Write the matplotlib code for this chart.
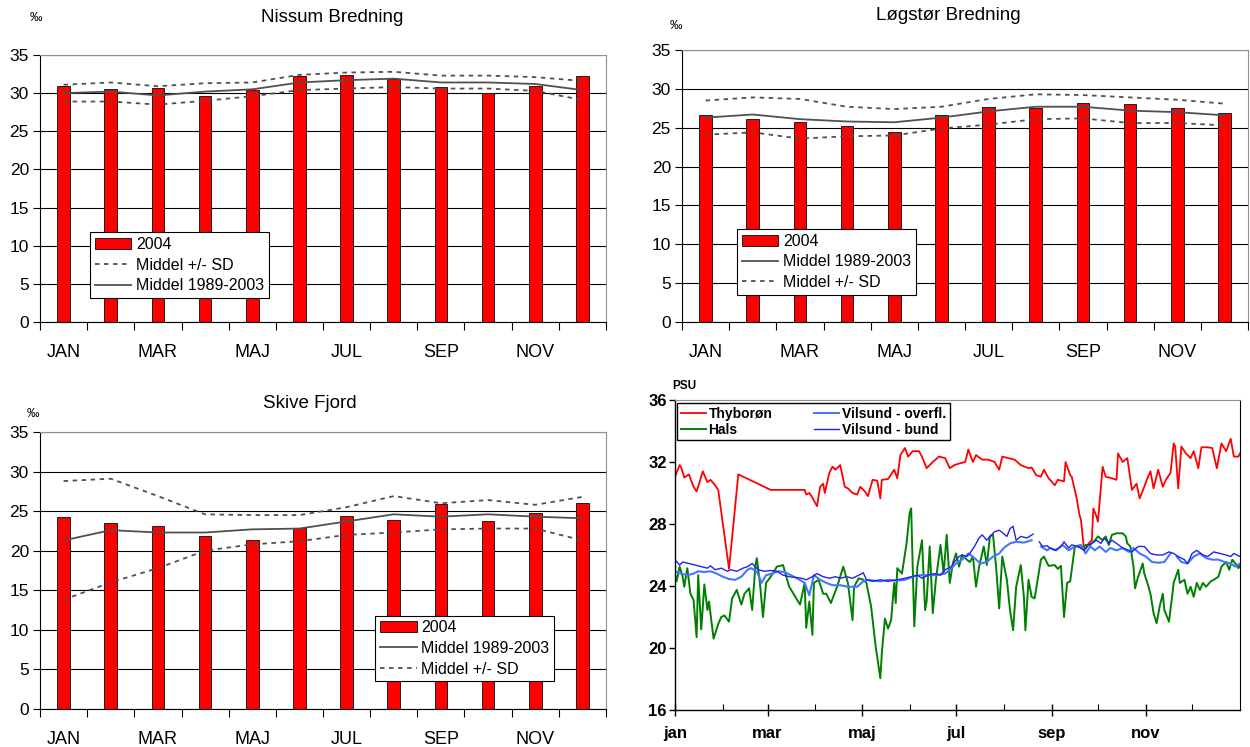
import numpy as np
import matplotlib.pyplot as plt
from matplotlib.ticker import FixedLocator

plt.rcParams['font.family'] = ['Liberation Sans', 'DejaVu Sans']

# monthly data for the three bar panels
months = ['JAN', 'FEB', 'MAR', 'APR', 'MAJ', 'JUN', 'JUL', 'AUG', 'SEP', 'OKT', 'NOV', 'DEC']

nissum_2004 = [31.0, 30.6, 30.7, 29.6, 30.4, 32.3, 32.4, 31.8, 30.8, 30.0, 30.9, 32.3]
nissum_mean = [30.0, 30.2, 29.7, 30.2, 30.5, 31.4, 31.7, 31.9, 31.4, 31.4, 31.2, 30.4]
nissum_hi = [31.1, 31.4, 30.9, 31.3, 31.4, 32.4, 32.7, 32.8, 32.3, 32.3, 32.1, 31.6]
nissum_lo = [28.9, 28.9, 28.5, 29.0, 29.6, 30.4, 30.6, 30.8, 30.6, 30.6, 30.3, 29.1]

logstor_2004 = [26.6, 26.1, 25.7, 25.2, 24.5, 26.7, 27.7, 27.5, 28.2, 28.1, 27.6, 26.9]
logstor_mean = [26.3, 26.7, 26.1, 25.8, 25.7, 26.3, 27.1, 27.7, 27.7, 27.2, 27.0, 26.6]
logstor_hi = [28.5, 28.9, 28.7, 27.7, 27.4, 27.7, 28.7, 29.3, 29.2, 28.9, 28.6, 28.1]
logstor_lo = [24.1, 24.4, 23.6, 23.9, 24.0, 24.9, 25.4, 26.1, 26.2, 25.6, 25.6, 25.3]

skive_2004 = [24.2, 23.5, 23.1, 21.9, 21.4, 22.9, 24.4, 23.9, 25.9, 23.8, 24.8, 26.0]
skive_mean = [21.3, 22.6, 22.3, 22.3, 22.7, 22.8, 23.7, 24.6, 24.3, 24.6, 24.3, 24.1]
skive_hi = [28.8, 29.1, 26.9, 24.6, 24.5, 24.5, 25.5, 26.9, 26.0, 26.4, 25.8, 26.8]
skive_lo = [13.8, 16.0, 17.8, 20.0, 20.8, 21.2, 22.0, 22.3, 22.7, 22.8, 22.8, 21.3]

# daily-ish series for 2004 (day of year, PSU)
thy_day = [0, 3, 4, 6, 9, 12, 14, 15, 18, 21, 23, 26, 28, 35, 41, 62, 84, 85, 87, 89, 92, 94, 96, 97,
           100, 102, 104, 107, 110, 112, 115, 118, 120, 123, 125, 128, 131, 133, 134, 138, 142, 144,
           146, 149, 151, 154, 158, 160, 163, 167, 171, 175, 178, 181, 184, 188, 190, 193, 195, 199,
           203, 207, 210, 212, 216, 220, 224, 229, 231, 234, 237, 239, 242, 246, 248, 252, 253, 256,
           257, 260, 262, 263, 265, 268, 270, 271, 273, 274, 277, 279, 283, 286, 287, 290, 293, 296,
           299, 301, 304, 306, 308, 310, 313, 316, 318, 321, 323, 324, 326, 328, 331, 334, 336, 339,
           341, 345, 348, 351, 354, 357, 360, 362, 365, 366]
thy_val = [31.05, 31.8, 31.65, 31.0, 31.2, 30.4, 30.1, 30.4, 31.4, 30.7, 30.85, 30.5, 30.2, 25.1, 31.2,
           30.2, 30.2, 29.9, 30.0, 29.7, 29.15, 30.4, 30.6, 30.0, 31.3, 31.7, 31.5, 31.8, 30.4, 30.3,
           30.0, 29.9, 30.4, 30.1, 29.8, 30.85, 30.8, 29.65, 30.85, 30.9, 31.5, 30.95, 32.45, 32.9,
           32.35, 32.7, 32.7, 32.35, 31.6, 32.0, 32.35, 32.25, 31.6, 31.8, 31.9, 32.0, 32.8, 32.0,
           32.45, 32.15, 32.15, 32.0, 31.5, 32.35, 32.25, 32.15, 31.8, 31.6, 31.65, 31.15, 31.05,
           31.5, 30.95, 30.5, 30.85, 30.75, 32.0, 31.15, 31.05, 29.75, 28.6, 28.25, 26.3, 26.75,
           26.95, 29.0, 28.5, 28.15, 31.7, 31.05, 30.95, 30.85, 32.55, 32.0, 32.25, 30.2, 30.6,
           29.65, 30.4, 30.95, 31.4, 30.3, 31.5, 30.4, 30.85, 31.3, 33.2, 33.0, 30.3, 33.0, 32.55,
           32.25, 32.7, 31.6, 32.95, 32.95, 32.9, 31.6, 33.2, 32.7, 33.5, 32.35, 32.35, 32.55]

hals_day = [0, 1, 3, 5, 6, 8, 10, 12, 14, 15, 17, 19, 21, 22, 25, 28, 30, 32, 35, 37, 40, 43, 45, 48,
            50, 52, 53, 55, 57, 59, 62, 66, 70, 74, 78, 81, 84, 85, 87, 89, 90, 93, 96, 98, 101, 105,
            109, 112, 115, 116, 119, 122, 124, 127, 130, 133, 134, 136, 138, 140, 142, 143, 144, 147,
            150, 152, 153, 155, 157, 160, 162, 163, 165, 167, 169, 172, 174, 176, 178, 180, 182, 184,
            186, 189, 191, 193, 195, 197, 200, 202, 204, 206, 208, 210, 212, 215, 217, 219, 221, 224,
            226, 227, 229, 231, 233, 237, 239, 242, 246, 248, 250, 252, 254, 256, 259, 261, 264, 266,
            269, 272, 274, 277, 279, 281, 283, 286, 290, 292, 293, 295, 297, 298, 300, 303, 304, 306,
            308, 310, 312, 314, 316, 317, 320, 322, 323, 326, 327, 330, 332, 334, 336, 338, 340, 342,
            344, 347, 349, 352, 354, 357, 359, 361, 363, 365, 366]
hals_val = [24.8, 24.3, 25.25, 24.6, 23.95, 25.15, 23.5, 23.1, 20.7, 24.7, 21.2, 24.1, 22.45, 23.0,
            20.6, 21.55, 22.0, 22.1, 21.7, 23.2, 23.75, 22.8, 23.5, 23.85, 22.45, 25.25, 25.8, 24.2,
            22.0, 24.2, 24.6, 25.25, 25.35, 23.95, 23.3, 22.8, 24.2, 21.3, 23.0, 20.85, 24.2, 24.4,
            23.5, 23.5, 22.9, 23.95, 25.25, 24.2, 21.8, 23.95, 24.5, 24.4, 24.2, 22.7, 20.1, 18.05,
            19.7, 21.9, 21.25, 21.8, 24.2, 22.9, 25.15, 24.8, 26.75, 28.7, 29.0, 21.4, 25.25, 26.95,
            22.45, 23.0, 26.55, 22.25, 24.4, 26.65, 24.8, 27.3, 24.2, 25.45, 26.1, 25.25, 26.0, 25.7,
            25.55, 25.9, 23.95, 25.25, 26.55, 25.35, 27.2, 27.3, 25.25, 22.55, 25.9, 24.4, 22.45,
            21.15, 23.95, 25.35, 23.3, 21.15, 24.4, 23.3, 23.2, 25.7, 25.9, 25.3, 25.35, 25.1, 25.3,
            22.0, 24.2, 24.3, 26.55, 26.55, 26.45, 26.65, 26.65, 26.95, 27.2, 26.95, 27.2, 26.65,
            27.3, 27.4, 27.4, 27.2, 26.75, 26.55, 25.25, 23.85, 24.6, 25.45, 24.8, 24.2, 23.5, 22.25,
            21.6, 22.7, 23.5, 22.45, 21.7, 23.3, 24.2, 25.05, 24.2, 24.4, 23.5, 23.95, 23.3, 24.2,
            23.75, 24.2, 23.95, 24.3, 24.4, 24.6, 25.25, 25.55, 25.05, 25.7, 25.45, 25.15, 25.35]

# NaN marks the gap in the Vilsund record
nan = np.nan
bund_day = [0, 3, 5, 9, 13, 17, 21, 23, 26, 30, 34, 36, 40, 44, 47, 50, 54, 58, 62, 66, 70, 74, 78,
            82, 85, 89, 92, 96, 100, 104, 107, 111, 115, 119, 122, 124, 128, 133, 138, 144, 149, 153,
            157, 160, 164, 168, 172, 175, 179, 181, 184, 186, 189, 191, 194, 197, 199, 202, 204, 207,
            210, 212, 215, 217, 219, 221, 224, 228, 232, 234, 236, 238, 241, 243, 246, 250, 252, 255,
            257, 261, 265, 268, 270, 273, 276, 278, 281, 283, 286, 290, 294, 296, 300, 304, 308, 312,
            316, 320, 323, 326, 330, 332, 335, 338, 342, 345, 349, 353, 357, 360, 362, 366]
bund_val = [25.7, 25.35, 25.55, 25.45, 25.35, 25.25, 25.15, 25.3, 25.05, 25.15, 24.95, 25.05, 24.95,
            25.15, 25.25, 25.45, 25.05, 24.95, 25.0, 24.95, 24.7, 24.6, 24.55, 24.5, 24.4, 24.6, 24.8,
            24.6, 24.5, 24.6, 24.5, 24.6, 24.5, 24.7, 24.85, 24.4, 24.3, 24.4, 24.3, 24.4, 24.5, 24.6,
            24.7, 24.5, 24.7, 24.8, 24.7, 25.05, 25.25, 25.55, 25.9, 26.0, 25.9, 26.1, 26.55, 27.1,
            27.3, 26.95, 27.2, 27.5, 27.6, 27.45, 27.2, 27.7, 27.85, 26.95, 27.2, 27.1, 27.35, nan,
            26.85, 26.55, 26.6, 26.45, 26.3, 26.55, 26.85, 26.45, 26.65, 26.55, 26.3, 26.65, 26.75,
            26.95, 26.75, 27.1, 26.75, 26.95, 26.75, 26.45, 26.3, 26.2, 26.55, 26.55, 26.1, 26.0,
            26.0, 26.2, 26.1, 25.9, 25.7, 25.45, 26.1, 26.3, 26.0, 25.9, 26.2, 26.1, 26.0, 25.9,
            26.1, 25.9]

overfl_day = [0, 4, 8, 12, 15, 19, 23, 27, 31, 35, 39, 43, 47, 49, 53, 56, 59, 63, 67, 71, 75, 79, 84,
              87, 90, 94, 98, 102, 107, 112, 118, 122, 125, 129, 133, 138, 144, 149, 154, 159, 164,
              169, 175, 178, 182, 186, 190, 194, 198, 202, 206, 210, 213, 217, 221, 226, 231, 234,
              237, 241, 243, 247, 251, 255, 259, 263, 266, 269, 272, 275, 279, 282, 286, 290, 294,
              297, 301, 305, 309, 313, 317, 321, 323, 325, 328, 332, 336, 340, 344, 348, 352, 356,
              360, 363, 366]
overfl_val = [24.95, 24.8, 24.7, 24.8, 24.95, 24.9, 24.95, 24.8, 24.6, 24.45, 24.4, 24.6, 25.05, 25.15,
              24.95, 24.2, 24.7, 24.8, 24.95, 24.9, 24.7, 24.5, 24.2, 23.4, 24.7, 24.4, 24.2, 24.05,
              24.05, 23.95, 23.95, 24.3, 24.4, 24.35, 24.3, 24.4, 24.35, 24.4, 24.6, 24.7, 24.7, 24.7,
              24.8, 25.05, 25.45, 25.7, 26.1, 25.8, 25.45, 25.55, 25.9, 26.1, 26.45, 26.75, 26.85,
              26.8, 26.95, nan, 26.55, 26.3, 26.45, 26.3, 26.65, 26.3, 26.55, 26.65, 26.1, 26.55, 26.3,
              26.55, 26.2, 26.45, 26.3, 26.45, 26.2, 26.45, 26.1, 25.9, 25.55, 25.5, 25.55, 26.1, nan,
              25.9, 25.55, 25.45, 25.9, 26.1, 25.8, 25.7, 25.7, 25.55, 25.45, 25.25, 25.45]

month_start = [0, 31, 60, 91, 121, 152, 182, 213, 244, 274, 305, 335, 366]
month_lab = ['jan', 'mar', 'maj', 'jul', 'sep', 'nov']

fig = plt.figure(figsize=(12.5, 7.47), dpi=100)


def bar_panel(rect, bars, mean, hi, lo, title, title_xy, unit_xy, leg_anchor, sd_first):
    ax = fig.add_axes(rect)
    x = np.arange(len(months))
    ax.set_axisbelow(True)
    ax.yaxis.grid(True, color='black', lw=0.8)
    b = ax.bar(x, bars, width=0.27, color='#ff0000', edgecolor='#202020', lw=0.7, label='2004', zorder=2)
    m, = ax.plot(x, mean, color='#505050', lw=1.3, label='Middel 1989-2003', zorder=3)
    s, = ax.plot(x, hi, color='#505050', lw=1.3, ls=(0, (2.5, 2.5)), label='Middel +/- SD', zorder=3)
    ax.plot(x, lo, color='#505050', lw=1.3, ls=(0, (2.5, 2.5)), zorder=3)
    ax.set_xlim(-0.5, 11.5)
    ax.set_ylim(0, 35)
    ax.set_yticks(range(0, 36, 5))
    ax.set_xticks(x[::2])
    ax.set_xticklabels(months[::2])
    ax.xaxis.set_minor_locator(FixedLocator(np.arange(-0.5, 12, 1)))
    ax.tick_params(axis='x', which='major', length=0, pad=16, labelsize=13)
    ax.tick_params(axis='x', which='minor', length=6, direction='out', width=0.8)
    ax.tick_params(axis='y', length=5, direction='out', width=0.8, labelsize=12.5, pad=3)
    for sp in ['top', 'right']:
        ax.spines[sp].set_color('#909090')
    ax.spines['left'].set_linewidth(0.8)
    ax.spines['bottom'].set_linewidth(0.8)
    handles = [b, s, m] if sd_first else [b, m, s]
    leg = ax.legend(handles=handles, loc='lower left', bbox_to_anchor=leg_anchor, borderaxespad=0,
                    fontsize=11.5, frameon=True, fancybox=False, framealpha=1, edgecolor='black',
                    handlelength=2.3, handletextpad=0.3, labelspacing=0.35, borderpad=0.3)
    leg.get_frame().set_linewidth(0.8)
    fig.text(title_xy[0], title_xy[1], title, ha='center', va='center', fontsize=13.5)
    fig.text(unit_xy[0], unit_xy[1], '‰', ha='left', va='center', fontsize=9)
    return ax


W, H = 1250, 747
bar_panel([40 / W, 1 - 322 / H, 566 / W, 267 / H], nissum_2004, nissum_mean, nissum_hi, nissum_lo,
          'Nissum Bredning', (332 / W, 1 - 18 / H), (30 / W, 1 - 18 / H), (0.088, 0.09), True)
bar_panel([682 / W, 1 - 322 / H, 566 / W, 272 / H], logstor_2004, logstor_mean, logstor_hi, logstor_lo,
          'Løgstør Bredning', (948 / W, 1 - 16 / H), (670 / W, 1 - 26 / H), (0.097, 0.10), False)
bar_panel([40 / W, 1 - 709 / H, 566 / W, 277 / H], skive_2004, skive_mean, skive_hi, skive_lo,
          'Skive Fjord', (310 / W, 1 - 403 / H), (27 / W, 1 - 414 / H), (0.592, 0.10), False)

# fourth panel: daily salinity
ax4 = fig.add_axes([675 / W, 1 - 710 / H, 565 / W, 310 / H])
ax4.plot(thy_day, thy_val, color='#ff0000', lw=1.3, label='Thyborøn')
ax4.plot(hals_day, hals_val, color='#008000', lw=1.4, label='Hals')
ax4.plot(overfl_day, overfl_val, color='#4477ff', lw=1.5, label='Vilsund - overfl.')
ax4.plot(bund_day, bund_val, color='#2222ee', lw=1.0, label='Vilsund - bund')
ax4.set_xlim(0, 366)
ax4.set_ylim(16, 36)
ax4.set_yticks(range(16, 37, 4))
ax4.set_xticks(month_start[0:12:2])
ax4.set_xticklabels(month_lab)
ax4.xaxis.set_minor_locator(FixedLocator(month_start[1::2]))
ax4.tick_params(axis='x', which='major', direction='inout', length=9, width=1, pad=7, labelsize=12)
ax4.tick_params(axis='x', which='minor', direction='in', length=4, width=0.8)
ax4.tick_params(axis='y', direction='out', length=4, width=1, labelsize=12, pad=2)
for lab in ax4.get_xticklabels() + ax4.get_yticklabels():
    lab.set_fontweight('bold')
ax4.spines['top'].set_color('#909090')
ax4.spines['left'].set_linewidth(1.0)
ax4.spines['bottom'].set_linewidth(1.0)
leg4 = ax4.legend(loc='upper left', bbox_to_anchor=(0.004, 0.99), borderaxespad=0, ncol=2,
                  prop={'weight': 'bold', 'size': 10}, frameon=True, fancybox=False, framealpha=1,
                  edgecolor='black', handlelength=1.8, handletextpad=0.2, columnspacing=3.0,
                  labelspacing=0.15, borderpad=0.25)
leg4.get_frame().set_linewidth(1.0)
fig.text(672 / W, 1 - 386 / H, 'PSU', ha='left', va='center', fontsize=8.5, fontweight='bold')

fig.savefig('out.png', dpi=100)
